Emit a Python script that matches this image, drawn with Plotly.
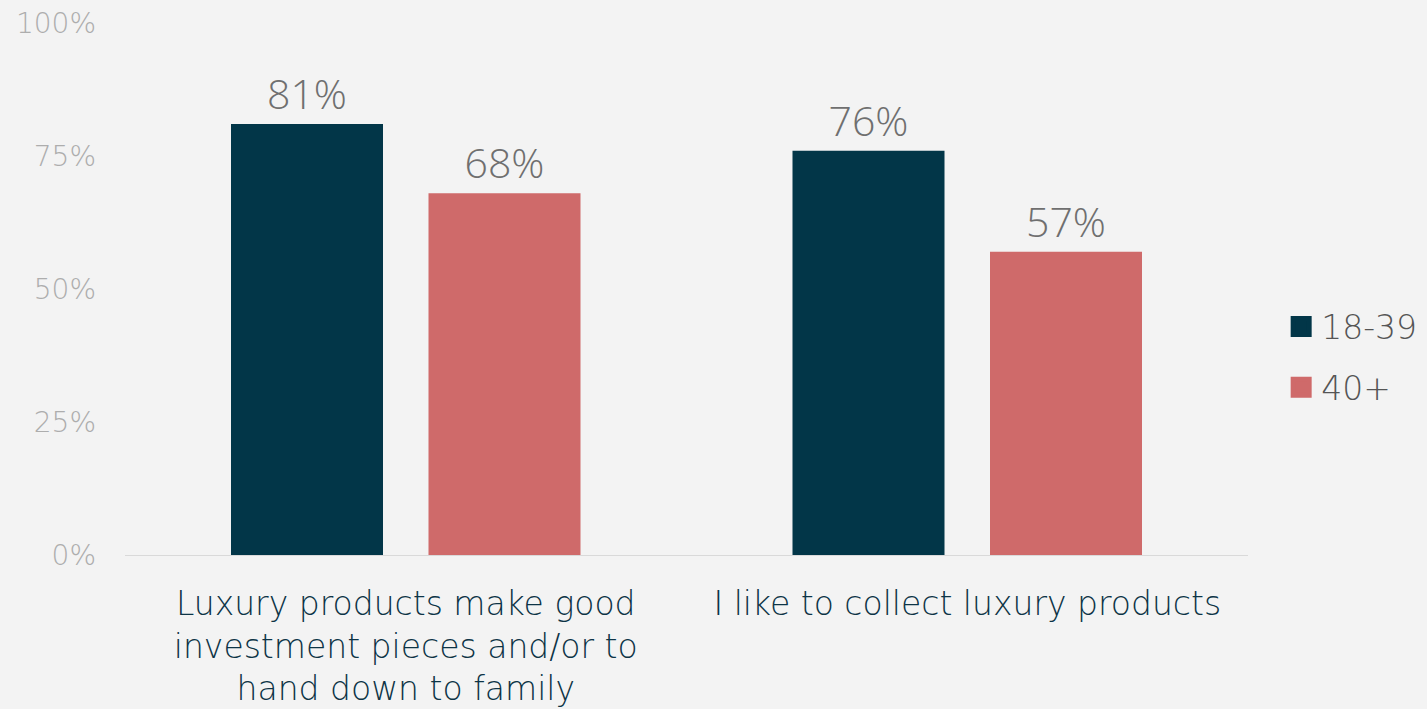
import plotly.graph_objects as go

categories = [
    "Luxury products make good<br>investment pieces and/or to<br>hand down to family",
    "I like to collect luxury products",
]
series_names = ["18-39", "40+"]
values_18_39 = [81, 76]
values_40_plus = [68, 57]
y_tick_vals = [0, 25, 50, 75, 100]
y_tick_text = ["0%", "25%", "50%", "75%", "100%"]

colors = ["#023648", "#cf6a6a"]
FONT = "DejaVu Sans"
LABEL_FONT = "Open Sans"

fig = go.Figure()
for name, vals, col in zip(series_names, [values_18_39, values_40_plus], colors):
    fig.add_trace(go.Bar(
        x=categories, y=vals, name=name,
        marker=dict(color=col, line=dict(width=0)),
        text=[f"{v}%" for v in vals], textposition="outside",
        textfont=dict(family=LABEL_FONT, size=41, color="#6f6f6f", weight=300),
        cliponaxis=False, showlegend=False, legendgroup=name,
    ))
    fig.add_trace(go.Scatter(
        x=[None], y=[None], mode="markers", name=name, legendgroup=name,
        marker=dict(symbol="square", size=16, color=col, line=dict(color=col, width=5)),
    ))

fig.update_layout(
    width=1427, height=709,
    margin=dict(l=125, r=179, t=23, b=154),
    paper_bgcolor="#f3f3f3", plot_bgcolor="rgba(0,0,0,0)",
    barmode="group", bargap=0.2965, bargroupgap=0.2304,
    font=dict(family=FONT),
    legend=dict(
        xref="container", yref="container",
        x=0.8978, xanchor="left", y=0.4965, yanchor="middle",
        font=dict(family=FONT, size=33, color="#555555", weight=200),
        itemsizing="trace", traceorder="grouped", tracegroupgap=15,
        bgcolor="rgba(0,0,0,0)",
    ),
    xaxis=dict(
        showline=True, linecolor="#d9d9d9", linewidth=1, ticks="",
        tickfont=dict(family=FONT, size=33, color="#0d3446", weight=200),
        showgrid=False, zeroline=False, ticklabelstandoff=19, automargin=False,
    ),
    yaxis=dict(
        range=[0, 100], tickvals=y_tick_vals, ticktext=y_tick_text,
        tickfont=dict(family=FONT, size=28, color="#adadad", weight=200),
        showgrid=False, zeroline=False, showline=False, ticks="",
        ticklabelstandoff=28, automargin=False,
    ),
)

fig.write_html("out.html")
